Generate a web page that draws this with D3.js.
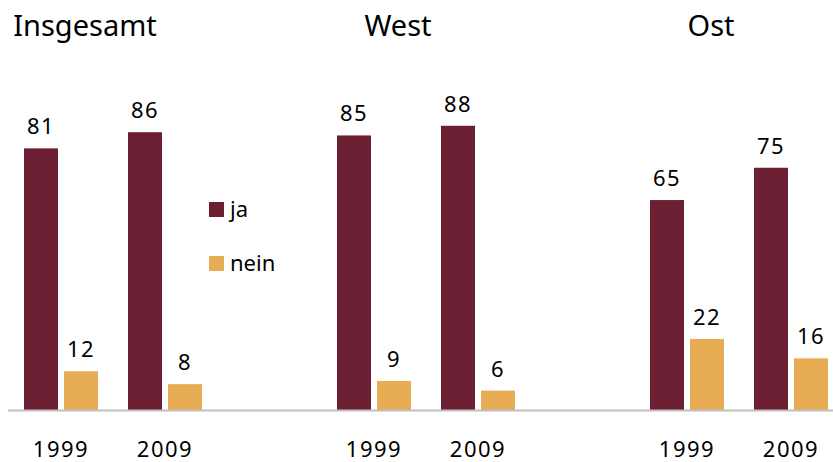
<!DOCTYPE html>
<html>
<head>
<meta charset="utf-8">
<script src="https://cdn.jsdelivr.net/npm/d3@7"></script>
<style>
  body { margin: 0; background: #fff; }
  text { font-family: "Noto Sans", "Open Sans", sans-serif; fill: #000; }
</style>
</head>
<body>
<div id="chart"></div>
<script>
// Data
const groups = ["Insgesamt", "West", "Ost"];
const years = ["1999", "2009"];
const series = ["ja", "nein"];
const jaValues = [81, 86, 85, 88, 65, 75];
const neinValues = [12, 8, 9, 6, 22, 16];

const colors = { ja: "#6c1f32", nein: "#e8ac55" };

const width = 833, height = 462;
const baseline = 410;

const svg = d3.select("#chart")
    .append("svg")
    .attr("width", width)
    .attr("height", height);

// flatten into rows
const rows = [];
groups.forEach((g, gi) => {
    years.forEach((y, yi) => {
        const i = gi * years.length + yi;
        rows.push({ group: g, year: y, series: "ja", value: jaValues[i] });
        rows.push({ group: g, year: y, series: "nein", value: neinValues[i] });
    });
});

// Scales
const xGroup = d3.scaleBand().domain(groups).range([24, 24 + 313 * 3]);
const xYear = d3.scaleBand().domain(years).range([0, 208]);
const xSeries = d3.scaleBand().domain(series).range([0, 74]).paddingInner(0.15);
const y = d3.scaleLinear().domain([0, 100]).range([baseline, baseline - 323]);

const xPos = d => xGroup(d.group) + xYear(d.year) + xSeries(d.series);

// Bars
svg.append("g").selectAll("rect")
    .data(rows)
    .enter()
    .append("rect")
    .attr("x", xPos)
    .attr("y", d => y(d.value))
    .attr("width", xSeries.bandwidth())
    .attr("height", d => y(0) - y(d.value))
    .attr("fill", d => colors[d.series]);

// Value labels
svg.append("g").selectAll("text")
    .data(rows)
    .enter()
    .append("text")
    .attr("x", d => xPos(d) + xSeries.bandwidth() / 2)
    .attr("y", d => y(d.value) - 14)
    .attr("text-anchor", "middle")
    .style("font-size", "22px")
    .style("letter-spacing", "1.5px")
    .text(d => d.value);

// Baseline
svg.append("line")
    .attr("x1", 8).attr("x2", width)
    .attr("y1", y(0) + 0.5).attr("y2", y(0) + 0.5)
    .attr("stroke", "#bfbfbf")
    .attr("stroke-width", 2);

// Year labels
groups.forEach(g => {
    svg.append("g").selectAll("text")
        .data(years)
        .enter()
        .append("text")
        .attr("x", d => xGroup(g) + xYear(d) + 37)
        .attr("y", 457)
        .attr("text-anchor", "middle")
        .style("font-size", "22px")
        .style("letter-spacing", "1.5px")
        .text(d => d);
});

// Group titles
svg.append("g").selectAll("text")
    .data(groups)
    .enter()
    .append("text")
    .attr("x", d => xGroup(d) + 61)
    .attr("y", 36)
    .attr("text-anchor", "middle")
    .style("font-size", "29px")
    .text(d => d);

// Legend
const legend = svg.append("g").attr("transform", "translate(209,202)");
series.forEach((s, i) => {
    const row = legend.append("g").attr("transform", "translate(0," + (i * 54) + ")");
    row.append("rect")
        .attr("width", 15).attr("height", 15)
        .attr("fill", colors[s]);
    row.append("text")
        .attr("x", 21).attr("y", 15)
        .style("font-size", "22px")
        .text(s);
});
</script>
</body>
</html>
